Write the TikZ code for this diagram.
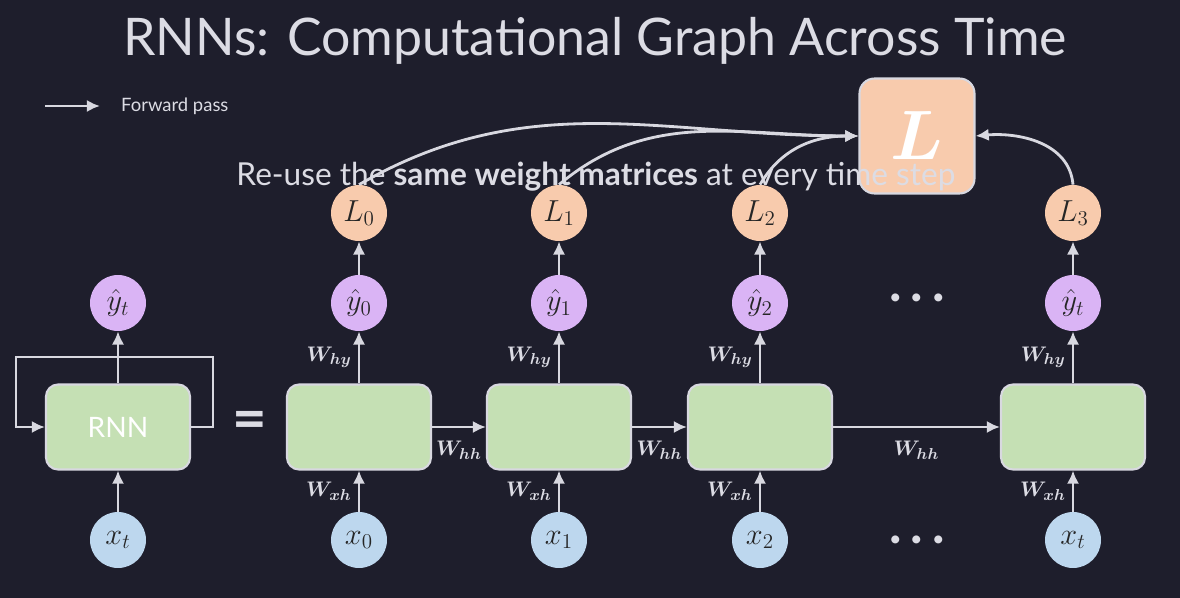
\documentclass[tikz,border=0pt]{standalone}
\usepackage{fontspec}
\usepackage{amsmath}
\usepackage{bm}
\setmainfont{Lato}
\usetikzlibrary{arrows.meta}
\definecolor{bgdark}{RGB}{30,30,44}
\definecolor{wire}{RGB}{216,216,224}
\definecolor{cellgreen}{RGB}{197,224,180}
\definecolor{outpurple}{RGB}{218,180,245}
\definecolor{inblue}{RGB}{189,215,238}
\definecolor{losspeach}{RGB}{248,203,173}
\definecolor{txt}{RGB}{220,220,228}
\tikzset{>={Latex[length=7.5pt,width=7pt]}}
\tikzset{
  cell/.style = {draw=wire, line width=1.2pt, fill=cellgreen, rounded corners=0.24cm,
    minimum width=2.88cm, minimum height=1.7cm},
  unit/.style = {circle, minimum size=1.12cm, inner sep=0pt, text=black!85,
    font=\fontsize{18}{18}\selectfont},
  outnode/.style = {unit, fill=outpurple},
  innode/.style = {unit, fill=inblue},
  lossnode/.style = {unit, fill=losspeach},
  wire/.style = {draw=wire, line width=1.6pt},
  weight/.style = {text=txt, font=\fontsize{13}{13}\selectfont},
  dotsnode/.style = {text=txt, font=\bfseries\fontsize{30}{30}\selectfont}
}
\newcommand{\Wt}[1]{$\bm{W}_{\bm{#1}}$}

\begin{document}
\begin{tikzpicture}[x=0.02cm,y=0.02cm]
  % background
  \fill[bgdark] (0,0) rectangle (1180,-598);
  \useasboundingbox (0,0) rectangle (1180,-598);
  % title and legend
  \node[text=txt, font=\fontsize{29.5}{34}\selectfont] (title) at (595,-41) {RNNs: Computational Graph Across Time};
  \coordinate (legA) at (45,-106);
  \coordinate (legB) at (100,-106);
  \draw[wire,->] (legA) -- (legB);
  \node[text=txt, anchor=west, font=\fontsize{10.5}{12}\selectfont] (legend) at (115,-106) {Forward pass};
  % folded rnn
  \node[cell, text=white, font=\fontsize{16}{16}\selectfont] (rnn) at (118,-427) {RNN};
  \node[outnode] (yt) at (118,-303) {$\hat{y}_t$};
  \node[innode] (xt) at (118,-540) {$x_t$};
  \coordinate (loopR) at (213,-357);
  \coordinate (loopL) at (16,-357);
  \draw[wire,->] (rnn.east) -| (loopR) -- (loopL) |- (rnn.west);
  \draw[wire,->] (rnn.north) -- (yt.south);
  \draw[wire,->] (xt.north) -- (rnn.south);
  \node[text=txt, font=\bfseries\fontsize{34}{34}\selectfont] (eq) at (250,-425) {=};
  % unrolled cells
  \node[cell] (h0) at (359,-427) {};
  \node[cell] (h1) at (559,-427) {};
  \node[cell] (h2) at (760,-427) {};
  \node[cell] (h3) at (1073,-427) {};
  \node[outnode] (y0) at (359,-303) {$\hat{y}_0$};
  \node[outnode] (y1) at (559,-303) {$\hat{y}_1$};
  \node[outnode] (y2) at (760,-303) {$\hat{y}_2$};
  \node[outnode] (y3) at (1073,-303) {$\hat{y}_t$};
  \node[lossnode] (L0) at (359,-213) {$L_0$};
  \node[lossnode] (L1) at (559,-213) {$L_1$};
  \node[lossnode] (L2) at (760,-213) {$L_2$};
  \node[lossnode] (L3) at (1073,-213) {$L_3$};
  \node[innode] (x0) at (359,-540) {$x_0$};
  \node[innode] (x1) at (559,-540) {$x_1$};
  \node[innode] (x2) at (760,-540) {$x_2$};
  \node[innode] (x3) at (1073,-540) {$x_t$};
  \node[dotsnode] (dotsTop) at (917,-298) {.\,.\,.};
  \node[dotsnode] (dotsBot) at (917,-540) {.\,.\,.};
  % hidden state
  \draw[wire,->] (h0.east) -- node[weight, below, yshift=-4pt]{\Wt{hh}} (h1.west);
  \draw[wire,->] (h1.east) -- node[weight, below, yshift=-4pt]{\Wt{hh}} (h2.west);
  \draw[wire,->] (h2.east) -- node[weight, below, yshift=-4pt]{\Wt{hh}} (h3.west);
  % inputs
  \draw[wire,->] (x0.north) -- node[weight, left]{\Wt{xh}} (h0.south);
  \draw[wire,->] (x1.north) -- node[weight, left]{\Wt{xh}} (h1.south);
  \draw[wire,->] (x2.north) -- node[weight, left]{\Wt{xh}} (h2.south);
  \draw[wire,->] (x3.north) -- node[weight, left]{\Wt{xh}} (h3.south);
  % outputs
  \draw[wire,->] (h0.north) -- node[weight, left]{\Wt{hy}} (y0.south);
  \draw[wire,->] (h1.north) -- node[weight, left]{\Wt{hy}} (y1.south);
  \draw[wire,->] (h2.north) -- node[weight, left]{\Wt{hy}} (y2.south);
  \draw[wire,->] (h3.north) -- node[weight, left]{\Wt{hy}} (y3.south);
  \draw[wire,->] (y0.north) -- (L0.south);
  \draw[wire,->] (y1.north) -- (L1.south);
  \draw[wire,->] (y2.north) -- (L2.south);
  \draw[wire,->] (y3.north) -- (L3.south);
  % total loss
  \node[draw=wire, line width=1.2pt, fill=losspeach, rounded corners=0.3cm,
    minimum width=2.3cm, minimum height=2.3cm, text=white,
    font=\fontsize{24}{24}\selectfont] (Lsum) at (917,-136) {\scalebox{1.6}{$\bm{L}$}};
  \draw[wire,->] (L0.north) to[out=30, in=180] (Lsum.west);
  \draw[wire,->] (L1.north) to[out=40, in=180] (Lsum.west);
  \draw[wire,->] (L2.north) to[out=60, in=180] (Lsum.west);
  \draw[wire,->] (L3.north) to[out=95, in=5] (Lsum.east);
  \node[text=txt, font=\fontsize{18}{20}\selectfont] (reuse) at (596,-177)
    {Re-use the \textbf{same weight matrices} at every time step};
\end{tikzpicture}
\end{document}
